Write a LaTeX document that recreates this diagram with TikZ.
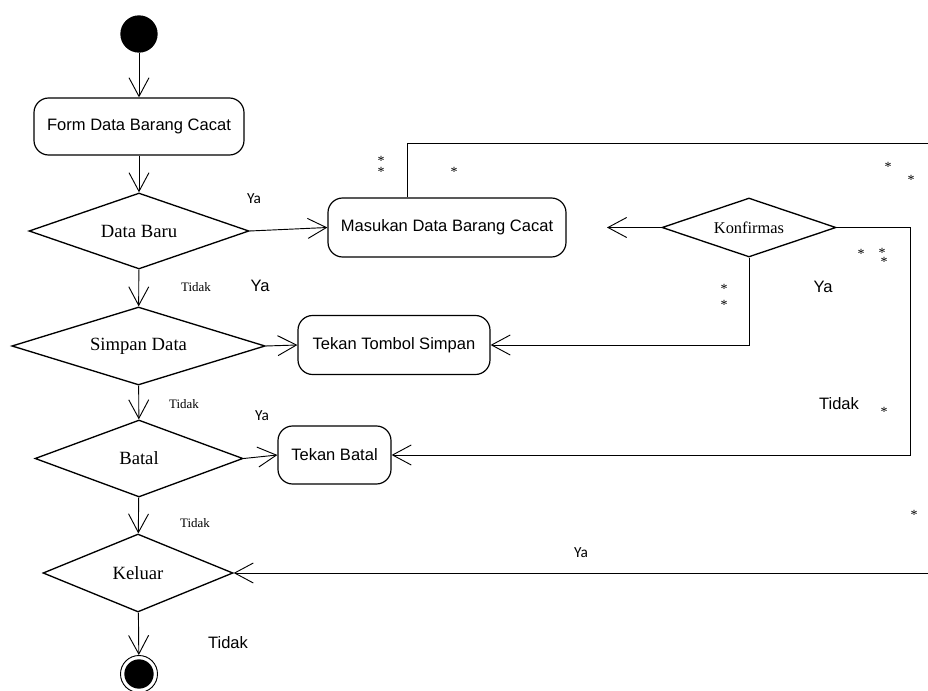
\documentclass[tikz,border=0pt]{standalone}
\usepackage{fontspec}
\setmainfont{Liberation Serif}
\setsansfont{Liberation Sans}
\newfontfamily\calibri{Carlito}
\usetikzlibrary{shapes.geometric,arrows.meta}
\tikzset{
  aktivitas/.style={draw,line width=0.9pt,rounded corners=11pt,inner sep=0pt,font=\sffamily\fontsize{12.4}{14}\selectfont},
  keputusan/.style={draw,diamond,aspect=3,line width=1pt,inner sep=0pt,font=\fontsize{14}{16}\selectfont},
  alur/.style={line width=0.7pt,-{Straight Barb[length=14pt,width=15pt]}},
  garis/.style={line width=0.7pt},
  ket/.style={inner sep=0pt,font=\fontsize{9.7}{11}\selectfont},
  keta/.style={inner sep=0pt,font=\sffamily\fontsize{12.4}{14}\selectfont},
  ketc/.style={inner sep=0pt,font=\calibri\fontsize{11.5}{13}\selectfont},
  bintang/.style={inner sep=0pt,text height=7pt,text depth=-2.6pt,font=\fontsize{10.5}{11}\selectfont}
}
\begin{document}
\begin{tikzpicture}[x=0.75pt,y=-0.75pt]
\useasboundingbox (0,0) rectangle (928,691);
%
\node[circle,fill=black,minimum size=28pt,inner sep=0pt] (mulai) at (139,34) {};
\node[aktivitas,minimum width=157.5pt,minimum height=42.75pt] (form) at (139,126.5) {Form Data Barang Cacat};
\node[keputusan,minimum width=165pt,minimum height=57pt] (databaru) at (139,231) {Data Baru};
\node[keputusan,minimum width=190pt,minimum height=58.5pt] (simpan) at (138.5,346) {Simpan Data};
\node[keputusan,minimum width=156pt,minimum height=57.75pt] (batal) at (139,458.5) {Batal};
\node[keputusan,minimum width=142.5pt,minimum height=58.5pt] (keluar) at (138,573) {Keluar};
\node[circle,draw,line width=0.7pt,minimum size=27.75pt,inner sep=0pt] (selesai) at (139,674) {};
\node[circle,fill=black,minimum size=22pt,inner sep=0pt] (selesaiisi) at (139,674) {};
%
\node[aktivitas,minimum width=178.5pt,minimum height=44.25pt] (masukan) at (447,227.5) {Masukan Data Barang Cacat};
\node[aktivitas,minimum width=144pt,minimum height=44.25pt] (tombolsimpan) at (394,345) {Tekan Tombol Simpan};
\node[aktivitas,minimum width=84.75pt,minimum height=43.5pt] (tekanbatal) at (334.5,455) {Tekan Batal};
\node[keputusan,minimum width=130.5pt,minimum height=44.25pt,font=\fontsize{12.3}{14}\selectfont] (konfirmas) at (749,227.5) {Konfirmas};
%
\coordinate (atas) at (928,143.5);
\coordinate (panahk) at (607,227.5);
\coordinate (kanan) at (928,573);
%
\draw[alur] (mulai) -- (form);
\draw[alur] (form) -- (databaru);
\draw[alur] (databaru.east) -- (masukan.west);
\draw[alur] (databaru) -- (simpan);
\draw[alur] (simpan.east) -- (tombolsimpan.west);
\draw[alur] (simpan) -- (batal);
\draw[alur] (batal.east) -- (tekanbatal.west);
\draw[alur] (batal) -- (keluar);
\draw[alur] (keluar) -- (selesai);
%
\draw[garis] (masukan.north) ++(-40,0) |- (atas);
\draw[alur] (konfirmas.west) -- (panahk);
\draw[alur] (konfirmas.south) |- (tombolsimpan.east);
\draw[alur] (konfirmas.east) -- ++(74,0) |- (tekanbatal.east);
\draw[alur] (kanan) -- (keluar.east);
%
\node[ketc] (ya1) at (254,199) {Ya};
\node[ket] (tidak1) at (196,287) {Tidak};
\node[keta] (ya2) at (260,286) {Ya};
\node[ket] (tidak2) at (184,404) {Tidak};
\node[ketc] (ya3) at (262,416) {Ya};
\node[ket] (tidak3) at (195,523) {Tidak};
\node[keta] (tidak4) at (228,643) {Tidak};
\node[ketc] (ya4) at (581,553) {Ya};
\node[keta] (ya5) at (823,287) {Ya};
\node[keta] (tidak5) at (839,404) {Tidak};
%
\foreach \x/\y [count=\i] in {381/161,381/172,454/172,888/167,911/180,861/254,882/253,884/262,724/289,724/305,884/412,914/515}
  \node[bintang] (bintang\i) at (\x,\y) {*};
\end{tikzpicture}
\end{document}
